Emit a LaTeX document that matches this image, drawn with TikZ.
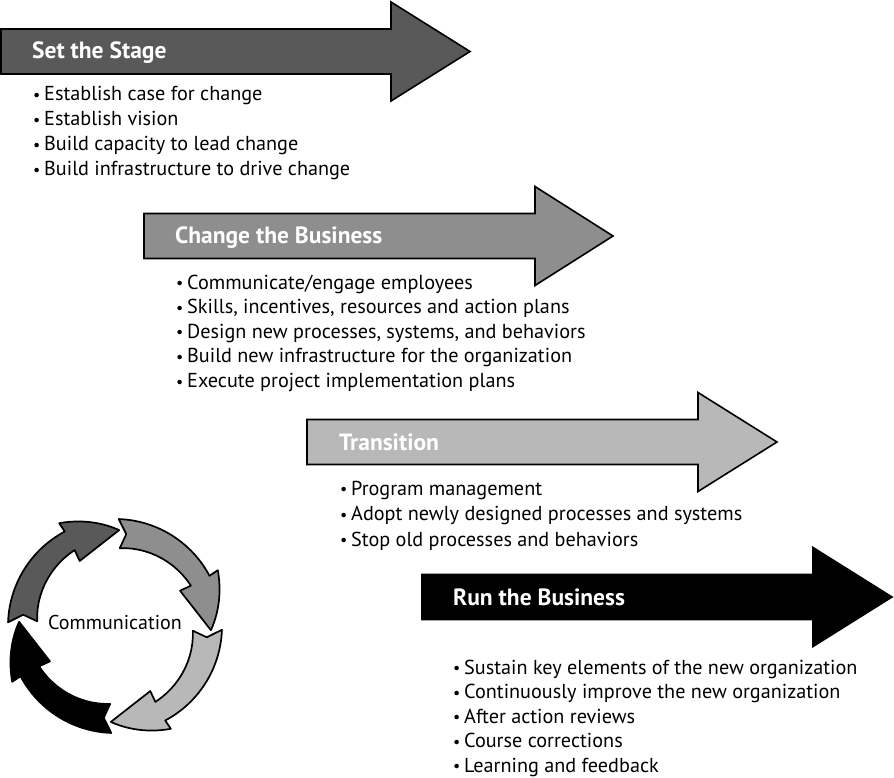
\documentclass[tikz,border=0pt]{standalone}
\usepackage{fontspec}
\setmainfont{PT Sans}
\definecolor{gA}{HTML}{595959}
\definecolor{gB}{HTML}{8E8E8E}
\definecolor{gC}{HTML}{B8B8B8}
\tikzset{
  bigarrow/.style={draw=black, line width=1.6pt, line join=miter},
  cycarrow/.style={draw=black, line width=1.7pt, line join=round},
  titletext/.style={anchor=base west, inner sep=0pt, text=white, font=\fontsize{23.5}{26}\selectfont\bfseries},
  itemtext/.style={anchor=base west, inner sep=0pt, font=\fontsize{20.2}{25}\selectfont},
  cyclabel/.style={anchor=base, inner sep=0pt, font=\fontsize{20}{25}\selectfont}
}
\newcommand\bul{\makebox[11pt][l]{\raisebox{0.3pt}{\fontsize{16}{16}\selectfont\textbullet}}}
% #1 left x, #2 head base x, #3 tip x, #4 centre y (screen), #5 colour
\newcommand\bigarr[5]{%
  \draw[bigarrow,fill=#5] ({#1},{-#4-22.5}) -- ({#2},{-#4-22.5}) -- ({#2},{-#4-49.5})
    -- ({#3},{-#4}) -- ({#2},{-#4+49.5}) -- ({#2},{-#4+22.5}) -- ({#1},{-#4+22.5}) -- cycle;}
% #1 tail angle, #2 colour
\newcommand\cycarr[2]{%
  \draw[cycarrow,fill=#2] ({#1}:107) arc[start angle={#1}, end angle={#1-60}, radius=107]
    -- ({#1-59.5}:117)
    -- plot[domain=0:1, samples=14, variable=\s] ({#1-59.5-31*\s}:{117-21*\s})
    -- ({#1-59.5}:74) -- ({#1-60}:86)
    -- plot[domain=0:1, samples=14, variable=\s] ({#1-60+58.5*\s}:{86-8*\s})
    -- ({#1-5}:92.5) -- cycle;}
\begin{document}
\begin{tikzpicture}[x=1pt,y=1pt]
\useasboundingbox (0,0) rectangle (894,-778);

% main arrows
\bigarr{1}{391}{470}{51.5}{gA}
\bigarr{144}{535}{613}{236}{gB}
\bigarr{307}{698}{777}{442}{gC}
\bigarr{422}{813}{892}{597}{black}

% titles
\node[titletext] (t1) at (32,-58.5) {Set the Stage};
\node[titletext] (t2) at (175,-243.5) {Change the Business};
\node[titletext] (t3) at (339,-450) {Transition};
\node[titletext] (t4) at (453,-605) {Run the Business};

% bullet lists
\foreach \txt [count=\i from 0] in {Establish case for change, Establish vision, Build capacity to lead change, Build infrastructure to drive change}
  \node[itemtext] (a\i) at (33,{-100.5-25*\i}) {\bul\txt};
\foreach \txt [count=\i from 0] in {Communicate/engage employees, {Skills, incentives, resources and action plans}, {Design new processes, systems, and behaviors}, Build new infrastructure for the organization, Execute project implementation plans}
  \node[itemtext] (b\i) at (176,{-289-24.6*\i}) {\bul\txt};
\foreach \txt [count=\i from 0] in {Program management, Adopt newly designed processes and systems, Stop old processes and behaviors}
  \node[itemtext] (c\i) at (340,{-495-25.6*\i}) {\bul\txt};
\foreach \txt [count=\i from 0] in {Sustain key elements of the new organization, Continuously improve the new organization, After action reviews, Course corrections, Learning and feedback}
  \node[itemtext] (d\i) at (453,{-674-24.5*\i}) {\bul\txt};

% communication cycle
\begin{scope}[shift={(115,-626)}]
  \cycarr{178}{gA}
  \cycarr{88}{gB}
  \cycarr{-2}{gC}
  \cycarr{-92}{black}
  \node[cyclabel] (comm) at (0,-3) {Communication};
\end{scope}
\end{tikzpicture}
\end{document}
